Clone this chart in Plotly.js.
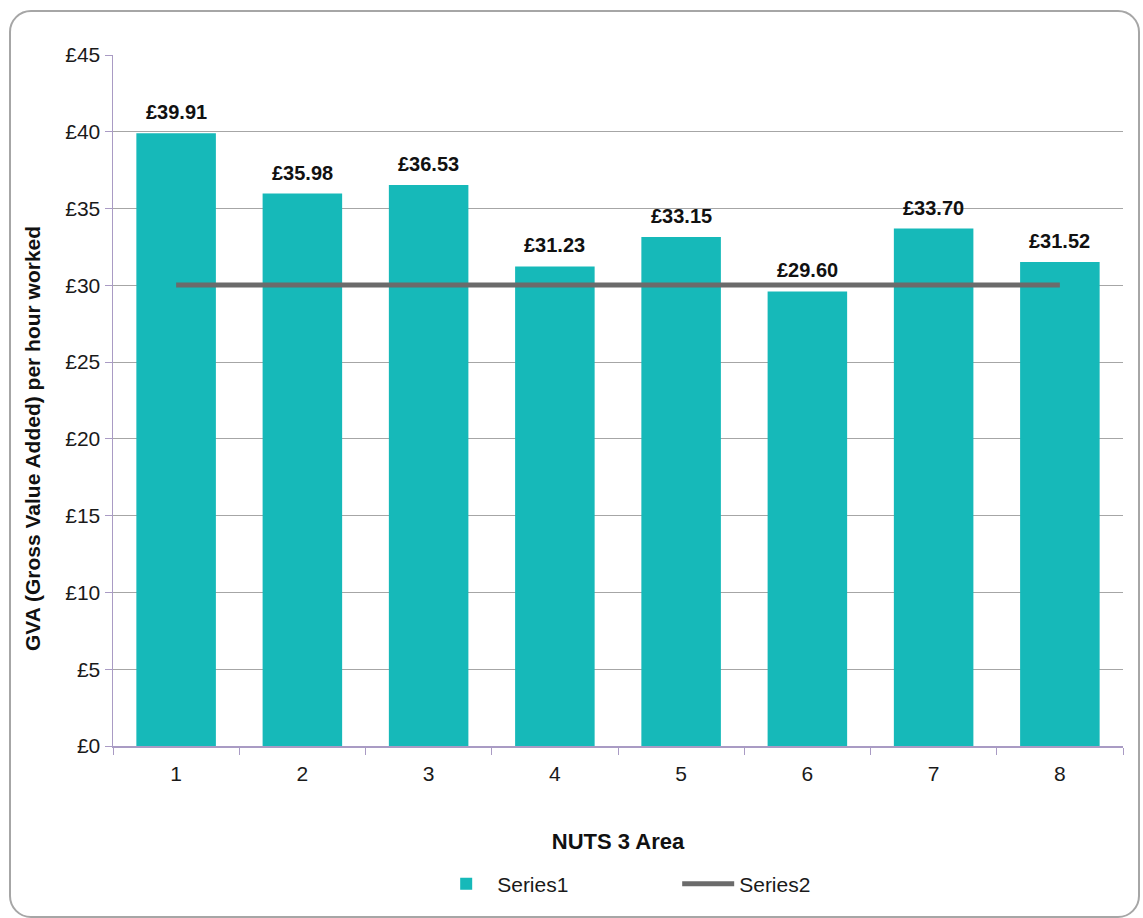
<!DOCTYPE html>
<html><head><meta charset="utf-8">
<script src="https://cdn.plot.ly/plotly-3.0.1.min.js"></script>
<style>
html,body{margin:0;padding:0;background:#fff;}
#wrap{position:relative;width:1143px;height:918px;}
#chart{position:absolute;left:0;top:0;width:1143px;height:918px;}
#frame{position:absolute;left:9px;top:10px;width:1127px;height:904px;border:2px solid #a6a6a6;border-radius:22px;pointer-events:none;}
</style>
</head><body>
<div id="wrap"><div id="chart"></div><div id="frame"></div></div>
<script>
const categories = ['1','2','3','4','5','6','7','8'];
const series1 = [39.91, 35.98, 36.53, 31.23, 33.15, 29.60, 33.70, 31.52];
const series2 = [30.02, 30.02, 30.02, 30.02, 30.02, 30.02, 30.02, 30.02];
const yTitle = 'GVA (Gross Value Added) per hour worked';
const xTitle = 'NUTS 3 Area';

const font = 'Liberation Sans, Arial, sans-serif';
const traces = [
  {type:'bar', name:'Series1', x:categories, y:series1,
   marker:{color:'#16b9b9'}, hoverinfo:'skip'},
  {type:'scatter', mode:'lines', name:'Series2', x:categories, y:series2,
   line:{color:'#6b6b6b', width:5}, hoverinfo:'skip'}
];
const annotations = categories.map((c, i) => ({
  x: i, y: series1[i], xref:'x', yref:'y', text:'£' + series1[i].toFixed(2),
  showarrow:false, yanchor:'bottom', yshift:8,
  font:{family:font, size:20, color:'#111', weight:'bold'}
}));
annotations.push({
  x:-0.0802, y:0.4457, xref:'paper', yref:'paper', text:yTitle, textangle:-90,
  showarrow:false, xanchor:'center', yanchor:'middle',
  font:{family:font, size:21, color:'#111', weight:'bold'}
});
const layout = {
  width:1143, height:918,
  margin:{l:113, r:20, t:55, b:172},
  paper_bgcolor:'rgba(0,0,0,0)', plot_bgcolor:'#fff',
  bargap:0.37,
  showlegend:true,
  annotations: annotations,
  font:{family:font, size:19, color:'#1a1a1a'},
  xaxis:{type:'category', range:[-0.5, 7.5], tickson:'boundaries', ticks:'outside', ticklen:7, tickcolor:'#a99bc4',
         showline:true, linecolor:'#a99bc4', linewidth:1.5, showgrid:false,
         ticklabelstandoff:8,
         tickfont:{size:21, family:font},
         title:{text:xTitle, font:{size:22, family:font, weight:'bold', color:'#111'}, standoff:50}},
  yaxis:{range:[0,45], dtick:5, tickprefix:'£', ticks:'outside', ticklen:7, tickcolor:'#a99bc4',
         showline:true, linecolor:'#a99bc4', linewidth:1.5,
         gridcolor:'#a6a6a6', gridwidth:1, zeroline:false,
         tickfont:{size:21, family:font}},
  legend:{orientation:'h', x:0.319, xanchor:'left', y:-0.2, yanchor:'middle',
          itemwidth:52, entrywidth:175, font:{size:21, family:font}}
};
Plotly.newPlot('chart', traces, layout, {displayModeBar:false, staticPlot:true});
</script>
</body></html>
